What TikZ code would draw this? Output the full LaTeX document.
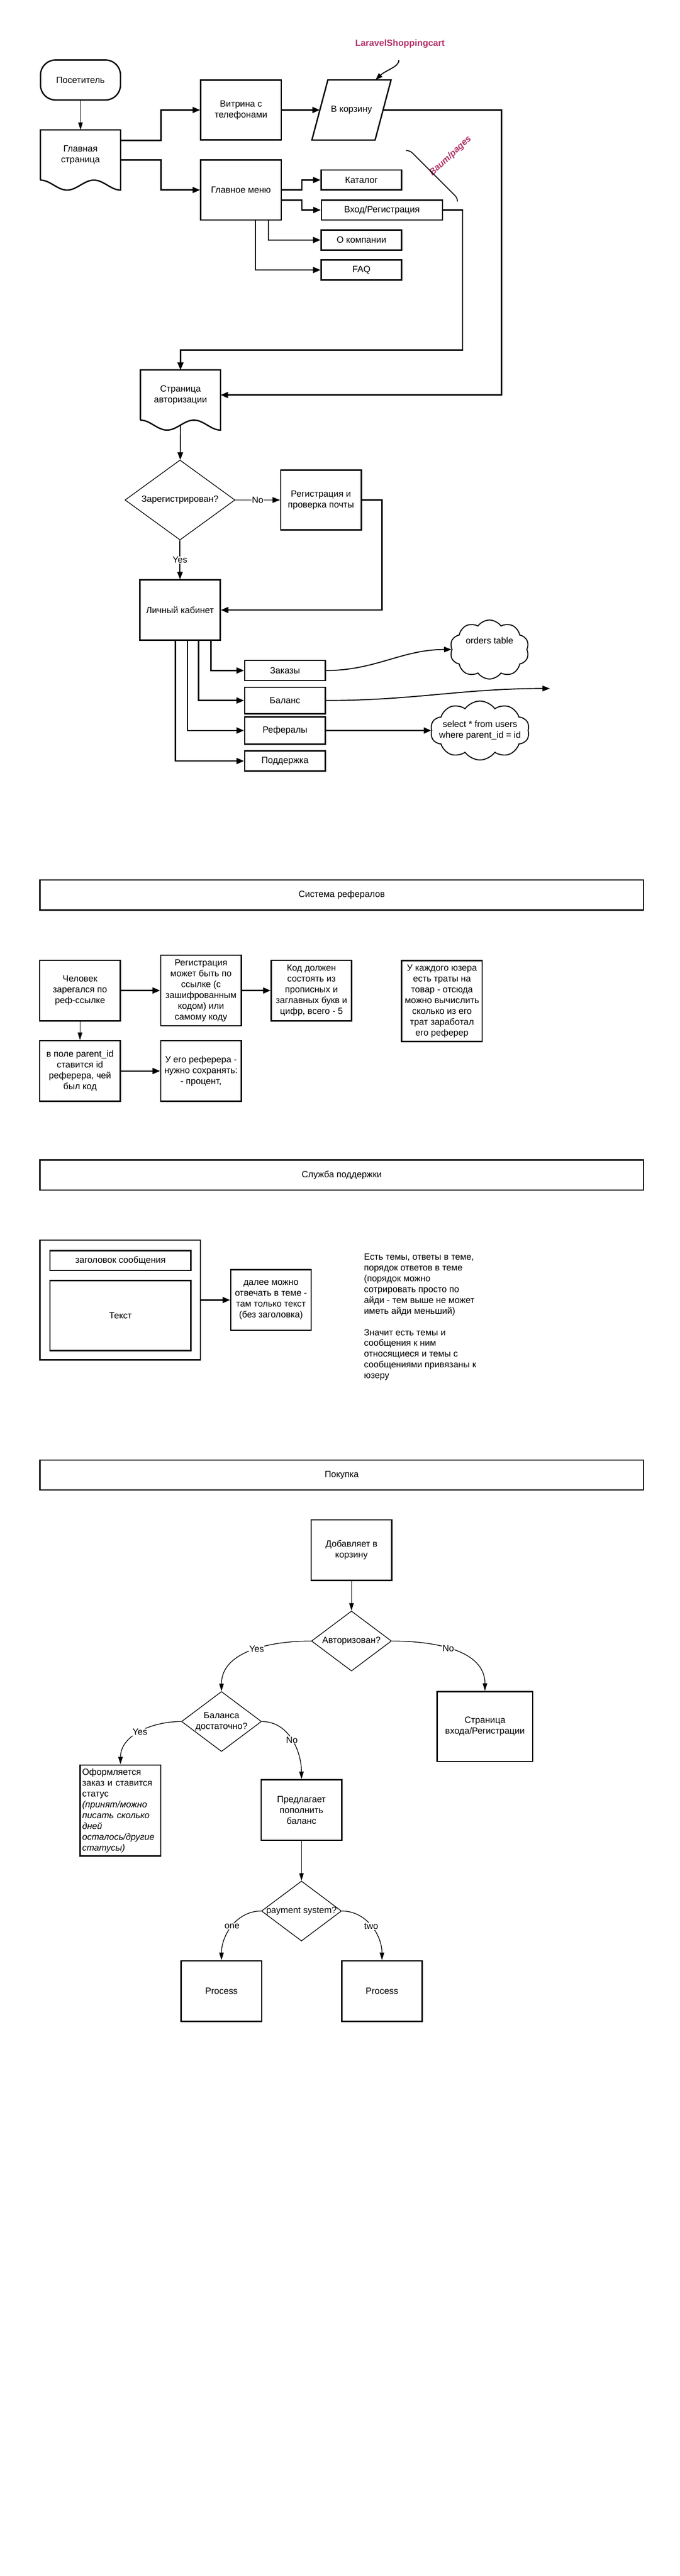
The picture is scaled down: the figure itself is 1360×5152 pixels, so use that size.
\documentclass[tikz,border=0pt]{standalone}
\usepackage{fontspec}
\setmainfont{Liberation Sans}
\usepackage{xcolor}
\usetikzlibrary{calc}
\usetikzlibrary{positioning}
\usetikzlibrary{arrows.meta}
\usetikzlibrary{shapes.geometric}
\usetikzlibrary{shapes.symbols}
\definecolor{notecolor}{HTML}{B23268}
\newcommand{\diagfont}{\fontsize{18}{21.6}\selectfont}
\tikzset{
  myarrow/.style={
    draw=black,
    line width=2.7pt,
    -{Triangle[length=15pt,width=12pt]},
  },
  mymidarrow/.style={
    draw=black,
    line width=2pt,
    -{Triangle[length=15pt,width=11pt]},
  },
  mythinarrow/.style={
    draw=black,
    line width=1.4pt,
    -{Triangle[length=15pt,width=9pt]},
  },
  myline/.style={
    draw=black,
    line width=2.7pt,
  },
  mybox/.style={
    draw=black,
    shape=rectangle,
    line width=2.7pt,
    align=center,
    inner sep=4pt,
    minimum width=161pt,
    minimum height=121pt,
    font=\diagfont
  },
  mysmallbox/.style={
    mybox,
    minimum height=40pt
  },
  myheader/.style={
    mybox,
    minimum width=1207pt,
    minimum height=60pt
  },
  myterminal/.style={
    mybox,
    rounded corners=30pt,
    minimum width=160pt,
    minimum height=80pt
  },
  mydoc/.style={
    shape=rectangle,
    align=center,
    inner sep=0pt,
    minimum width=160pt,
    minimum height=100pt,
    font=\diagfont
  },
  mypara/.style={
    mydoc,
    minimum width=126pt,
    minimum height=120pt
  },
  mydiamond/.style={
    draw=black,
    shape=diamond,
    line width=1.4pt,
    aspect=1.333,
    inner sep=0pt,
    minimum width=160pt,
    minimum height=120pt,
    align=center,
    font=\diagfont
  },
  mycloud/.style={
    draw=black,
    shape=cloud,
    line width=2pt,
    cloud puffs=10,
    cloud puff arc=110,
    aspect=1.4,
    inner sep=0pt,
    align=center,
    font=\diagfont
  },
  mylabel/.style={
    fill=white,
    inner sep=1pt,
    font=\diagfont
  },
  mynote/.style={
    text=notecolor,
    inner sep=0pt,
    font=\diagfont\bfseries
  },
  mytext/.style={
    align=left,
    inner sep=0pt,
    anchor=north west,
    font=\diagfont
  }
}
% document shape: wavy bottom under the node
\newcommand{\docoutline}[1]{%
  \draw[myline] (#1.south west) -- (#1.north west) -- (#1.north east)
    -- ([yshift=-20pt]#1.south east)
    cos ([xshift=-26.67pt,yshift=-10pt]#1.south east)
    sin ([xshift=-53.33pt]#1.south east)
    cos ([yshift=-10pt]#1.south)
    sin ([xshift=53.33pt,yshift=-20pt]#1.south west)
    cos ([xshift=26.67pt,yshift=-10pt]#1.south west)
    sin (#1.south west);}
% slanted input box round the node
\newcommand{\paraoutline}[1]{%
  \draw[myline] ([xshift=16pt]#1.north west) -- ([xshift=16pt]#1.north east)
    -- ([xshift=-16pt]#1.south east) -- ([xshift=-16pt]#1.south west) -- cycle;}

\begin{document}
\begin{tikzpicture}[x=1pt, y=1pt]
  \useasboundingbox (0,0) rectangle (1360,-5152);

  % Site map
  \node [myterminal] (visitor) at (161,-160) {Посетитель};
  \node [mydoc] (mainpage) at (161,-310) {Главная\\страница};
  \docoutline{mainpage}

  \node [mybox, minimum height=120pt] (showcase) at (482,-220) {Витрина с\\телефонами};
  \node [mypara] (cart) at (703,-220) {В корзину};
  \paraoutline{cart}
  \node [mybox, minimum height=120pt] (menu) at (482,-380) {Главное меню};

  \node [mysmallbox] (catalog) at (723,-360) {Каталог};
  \node [mysmallbox, minimum width=242pt] (login) at (764,-420) {Вход/Регистрация};
  \node [mysmallbox] (about) at (723,-480) {О компании};
  \node [mysmallbox] (faq) at (723,-540) {FAQ};

  \node [mynote] (laravel) at (800,-88) {LaravelShoppingcart};
  \node [mynote, font=\diagfont\bfseries\itshape, rotate=43] (baum) at (901,-312) {Baum/pages};
  \coordinate (laravelend) at (798,-120);

  \draw [mythinarrow] (visitor) -- (mainpage);
  \draw [myarrow] ([yshift=29pt]mainpage.east) -- ++(81,0) |- (showcase.west);
  \draw [myarrow] ([yshift=-10pt]mainpage.east) -- ++(81,0) |- (menu.west);
  \draw [myarrow] (showcase) -- (cart);
  \draw [myarrow] (menu.east) -- ++(40,0) |- (catalog.west);
  \draw [myarrow] ([yshift=-20pt]menu.east) -- ++(40,0) |- (login.west);
  \draw [myarrow] ([xshift=55pt]menu.south) |- (about.west);
  \draw [myarrow] ([xshift=29pt]menu.south) |- (faq.west);

  % Annotations
  \draw [line width=2pt, -{Triangle[length=14pt,width=10pt]}] (laravelend)
    .. controls (798,-134) and (772,-140) .. ([xshift=-15pt]cart.north east);
  \draw [line width=1.8pt] (812,-301) to[out=0, in=135] (826,-307) -- (869,-350)
    -- (908,-389) to[out=-45, in=90] (915,-403);

  % Authorisation
  \node [mydoc] (authpage) at (361,-790) {Страница\\авторизации};
  \docoutline{authpage}
  \draw [myarrow] (cart.east) -- ++(237,0) |- (authpage.east);
  \draw [myarrow] (login.east) -- ++(39,0) -- ++(0,-280) -| (authpage.north);

  \node [mydiamond, minimum width=220pt, minimum height=160pt, aspect=1.375] (regq) at (360,-1000) {Зарегистрирован?};
  \node [mybox, minimum height=120pt] (regbox) at (642,-1000) {Регистрация и\\проверка почты};
  \node [mybox, minimum height=120pt] (cabinet) at (360,-1220) {Личный кабинет};

  \draw [mymidarrow] ([yshift=-10pt]authpage.south) -- (regq);
  \draw [mymidarrow] (regq) -- node [mylabel] {No} (regbox);
  \draw [mymidarrow] (regq) -- node [mylabel] {Yes} (cabinet);
  \draw [myarrow] (regbox.east) -- ++(40,0) |- (cabinet.east);

  % Cabinet pages
  \node [mysmallbox] (orders) at (570,-1341) {Заказы};
  \node [mysmallbox, minimum height=53pt] (balance) at (570,-1401) {Баланс};
  \node [mysmallbox, minimum height=55pt] (referrals) at (570,-1461) {Рефералы};
  \node [mysmallbox] (support) at (570,-1522) {Поддержка};

  \draw [myarrow] ([xshift=62pt]cabinet.south) |- (orders.west);
  \draw [myarrow] ([xshift=37pt]cabinet.south) |- (balance.west);
  \draw [myarrow] ([xshift=15pt]cabinet.south) |- (referrals.west);
  \draw [myarrow] ([xshift=-9pt]cabinet.south) |- (support.west);

  \node [mycloud, minimum width=158pt, minimum height=118pt] (orderstable) at (979,-1299) {orders table\\[14pt]};
  \node [mycloud, minimum width=198pt, minimum height=118pt] (usersquery) at (960,-1461)
    {\makebox[90pt][c]{\begin{tabular}{@{}c@{}}select * from users\\where parent\_id = id\end{tabular}}};
  \coordinate (balanceend) at (1100,-1377);

  \draw [mymidarrow] (orders.east) to[out=0, in=180] (orderstable.west);
  \draw [mymidarrow] (balance.east) to[out=0, in=180] (balanceend);
  \draw [myarrow] (referrals) -- (usersquery);

  % Referral system
  \node [myheader] (refheader) at (683.5,-1790) {Система рефералов};

  \node [mybox] (person) at (160,-1981) {Человек\\зарегался по\\реф-ссылке};
  \node [mybox, minimum height=141pt] (refreg) at (402,-1981) {Регистрация\\может быть по\\ссылке (с\\зашифрованным\\кодом) или\\самому коду};
  \node [mybox] (code) at (623,-1981) {Код должен\\состоять из\\прописных и\\заглавных букв и\\цифр, всего - 5};
  \node [mybox, minimum height=162pt] (spend) at (884,-2002) {У каждого юзера\\есть траты на\\товар - отсюда\\можно вычислить\\сколько из его\\трат заработал\\его реферер};
  \node [mybox] (parent) at (160,-2142) {в поле parent\_id\\ставится id\\реферера, чей\\был код};
  \node [mybox] (save) at (402,-2142) {У его реферера -\\нужно сохранять:\\- процент,};

  \draw [myarrow] (person) -- (refreg);
  \draw [myarrow] (refreg) -- (code);
  \draw [mythinarrow] (person) -- (parent);
  \draw [myarrow] (parent) -- (save);

  % Support service
  \node [myheader] (supheader) at (683.5,-2350) {Служба поддержки};

  \node [mybox, minimum width=321pt, minimum height=240pt] (msgframe) at (240.5,-2600) {};
  \node [mysmallbox, minimum width=282pt] (msgtitle) at (241,-2521) {заголовок сообщения};
  \node [mybox, minimum width=282pt, minimum height=140pt] (msgtext) at (241,-2631) {Текст};
  \node [mybox] (reply) at (542,-2600) {далее можно\\отвечать в теме -\\там только текст\\(без заголовка)};
  \node [mytext] (supnotes) at (728,-2507) {Есть темы, ответы в теме,\\порядок ответов в теме\\(порядок можно\\сотрировать просто по\\айди - тем выше не может\\иметь айди меньший)\\[21.6pt]Значит есть темы и\\сообщения к ним\\относящиеся и темы с\\сообщениями привязаны к\\юзеру};

  \draw [myarrow] (msgframe) -- (reply);

  % Purchase
  \node [myheader] (buyheader) at (683.5,-2950) {Покупка};

  \node [mybox] (addcart) at (703,-3100) {Добавляет в\\корзину};
  \node [mydiamond] (authq) at (703,-3282) {Авторизован?};
  \node [mybox, minimum width=191pt, minimum height=140pt] (enterpage) at (970,-3453) {Страница\\входа/Регистрации};
  \node [mydiamond] (balq) at (443,-3443) {Баланса\\достаточно?};
  \node [mybox, minimum height=182pt, text width=153pt, align=left] (order) at (241,-3621) {Оформляется\\заказ и ставится\\статус\\\textit{(принят/можно}\\\textit{писать сколько}\\\textit{дней}\\\textit{осталось/другие}\\\textit{статусы)}};
  \node [mybox] (topup) at (603,-3620) {Предлагает\\пополнить\\баланс};
  \node [mydiamond] (payq) at (603,-3822) {\makebox[126pt][c]{payment system?}};
  \node [mybox] (procone) at (443,-3982) {Process};
  \node [mybox] (proctwo) at (764,-3982) {Process};

  \draw [mythinarrow] (addcart) -- (authq);
  \draw [mythinarrow] (authq.west) to[out=180, in=90] node [mylabel, pos=0.45] {Yes} (balq.north);
  \draw [mythinarrow] (authq.east) to[out=0, in=90] node [mylabel, pos=0.45] {No} (enterpage.north);
  \draw [mythinarrow] (balq.west) to[out=180, in=90] node [mylabel, pos=0.5] {Yes} (order.north);
  \draw [mythinarrow] (balq.east) to[out=0, in=90] node [mylabel, pos=0.5] {No} (topup.north);
  \draw [mythinarrow] (topup) -- (payq);
  \draw [mythinarrow] (payq.west) to[out=180, in=90] node [mylabel, pos=0.5] {one} (procone.north);
  \draw [mythinarrow] (payq.east) to[out=0, in=90] node [mylabel, pos=0.5] {two} (proctwo.north);
\end{tikzpicture}
\end{document}
